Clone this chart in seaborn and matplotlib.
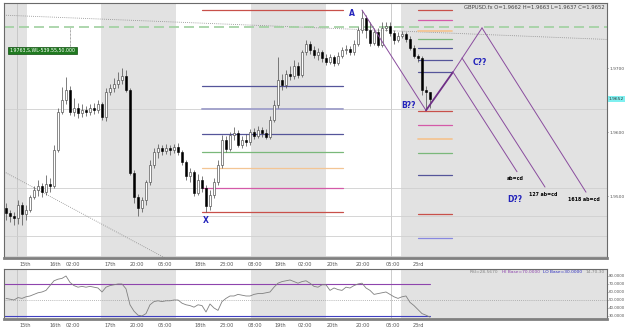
import numpy as np
import pandas as pd
import matplotlib
matplotlib.use("Agg")
import matplotlib.pyplot as plt
import seaborn as sns

# GBPUSD H1 candles (bar index 0..106)
first_open = 1.9481
closes = [1.9473, 1.9469, 1.9466, 1.9486, 1.9472, 1.9478, 1.9498, 1.9509, 1.9516, 1.9506,
          1.9519, 1.9516, 1.9572, 1.9631, 1.9650, 1.9666, 1.9631, 1.9638, 1.9630, 1.9634,
          1.9631, 1.9638, 1.9634, 1.9644, 1.9623, 1.9663, 1.9669, 1.9675, 1.9681, 1.9688,
          1.9666, 1.9536, 1.9498, 1.9481, 1.9494, 1.9522, 1.9548, 1.9569, 1.9575, 1.9570,
          1.9575, 1.9572, 1.9577, 1.9569, 1.9553, 1.9531, 1.9538, 1.9505, 1.9525, 1.9513,
          1.9484, 1.9502, 1.9522, 1.9548, 1.9588, 1.9573, 1.9595, 1.9598, 1.9580, 1.9588,
          1.9584, 1.9600, 1.9594, 1.9603, 1.9598, 1.9592, 1.9619, 1.9642, 1.9681, 1.9673,
          1.9691, 1.9688, 1.9703, 1.9689, 1.9725, 1.9738, 1.9728, 1.9720, 1.9725, 1.9716,
          1.9709, 1.9717, 1.9708, 1.9719, 1.9728, 1.9730, 1.9725, 1.9738, 1.9759, 1.9778,
          1.9759, 1.9739, 1.9756, 1.9736, 1.9763, 1.9766, 1.9755, 1.9744, 1.9750, 1.9753,
          1.9745, 1.9731, 1.9719, 1.9716, 1.9666, 1.9662, 1.9652]
highs = [1.9489, 1.9478, 1.9475, 1.9494, 1.9491, 1.9486, 1.9502, 1.9516, 1.9525, 1.9520,
         1.9533, 1.9528, 1.9580, 1.9638, 1.9670, 1.9686, 1.9672, 1.9653, 1.9645, 1.9644,
         1.9641, 1.9644, 1.9645, 1.9650, 1.9647, 1.9669, 1.9675, 1.9684, 1.9694, 1.9700,
         1.9697, 1.9669, 1.9541, 1.9503, 1.9498, 1.9525, 1.9556, 1.9575, 1.9581, 1.9580,
         1.9581, 1.9580, 1.9581, 1.9583, 1.9572, 1.9556, 1.9544, 1.9541, 1.9534, 1.9531,
         1.9517, 1.9509, 1.9528, 1.9556, 1.9595, 1.9594, 1.9600, 1.9608, 1.9603, 1.9594,
         1.9597, 1.9605, 1.9606, 1.9609, 1.9608, 1.9605, 1.9625, 1.9650, 1.9717, 1.9691,
         1.9697, 1.9703, 1.9713, 1.9709, 1.9728, 1.9744, 1.9742, 1.9734, 1.9731, 1.9728,
         1.9722, 1.9723, 1.9720, 1.9725, 1.9733, 1.9736, 1.9734, 1.9744, 1.9764, 1.9791,
         1.9784, 1.9772, 1.9763, 1.9763, 1.9772, 1.9773, 1.9772, 1.9759, 1.9756, 1.9758,
         1.9756, 1.9750, 1.9736, 1.9723, 1.9719, 1.9672, 1.9663]
lows = [1.9463, 1.9459, 1.9455, 1.9456, 1.9455, 1.9463, 1.9475, 1.9495, 1.9500, 1.9498,
        1.9502, 1.9506, 1.9513, 1.9569, 1.9628, 1.9644, 1.9627, 1.9625, 1.9622, 1.9623,
        1.9625, 1.9627, 1.9628, 1.9630, 1.9619, 1.9617, 1.9658, 1.9663, 1.9669, 1.9675,
        1.9663, 1.9533, 1.9489, 1.9469, 1.9475, 1.9486, 1.9517, 1.9544, 1.9559, 1.9564,
        1.9566, 1.9564, 1.9567, 1.9564, 1.9548, 1.9525, 1.9522, 1.9500, 1.9502, 1.9506,
        1.9475, 1.9478, 1.9497, 1.9517, 1.9544, 1.9569, 1.9570, 1.9588, 1.9577, 1.9575,
        1.9578, 1.9580, 1.9589, 1.9591, 1.9592, 1.9589, 1.9589, 1.9616, 1.9638, 1.9666,
        1.9669, 1.9681, 1.9683, 1.9684, 1.9686, 1.9720, 1.9723, 1.9716, 1.9713, 1.9709,
        1.9705, 1.9706, 1.9703, 1.9705, 1.9716, 1.9723, 1.9720, 1.9720, 1.9734, 1.9755,
        1.9747, 1.9734, 1.9736, 1.9733, 1.9733, 1.9758, 1.9750, 1.9738, 1.9741, 1.9747,
        1.9741, 1.9728, 1.9716, 1.9709, 1.9658, 1.9634, 1.9637]

# RSI(14), one value per bar
rsi = [52, 51, 50, 53, 52, 54, 55, 57, 59, 60, 62, 68, 74, 76, 77, 80, 72, 68, 66, 67,
       66, 67, 66, 65, 60, 66, 68, 69, 70, 70, 64, 44, 36, 31, 30, 33, 44, 48, 49, 48,
       49, 49, 50, 50, 46, 44, 43, 41, 44, 43, 35, 45, 40, 37, 48, 52, 55, 55, 57, 56,
       55, 55, 57, 58, 58, 59, 60, 66, 71, 73, 74, 75, 73, 71, 73, 74, 71, 67, 66, 69,
       69, 62, 65, 63, 62, 66, 65, 68, 70, 71, 65, 62, 57, 58, 59, 60, 57, 54, 52, 54,
       55, 47, 43, 38, 33, 31, 28.567]

time_pos = [4.75, 12.25, 16.75, 26, 32.75, 39.75, 48.5, 55.25, 62.25, 68.5, 74.75, 81.5, 89.25, 96.75, 103]
time_labels = ["15th", "16th", "02:00", "17th", "20:00", "05:00", "18th", "23:00", "08:00",
               "19th", "02:00", "20th", "20:00", "05:00", "23rd"]

# session shading (bar index ranges)
shade_spans = [(-0.5, 5.25), (23.75, 42.5), (61.25, 80), (98.75, 150.25)]

RED, MAG, PEACH, GREEN, NAVY, LAV, LBLUE = "#c8504a", "#d45aa8", "#f3c594", "#7ab87a", "#55559a", "#a4a4cc", "#8888e0"

# XA fibo levels
fib_left = [1.9791, 1.9672, 1.9636, 1.9597, 1.9569, 1.9544, 1.9513, 1.9475]
fib_left_col = [RED, NAVY, LAV, NAVY, GREEN, PEACH, MAG, RED]
fib_right = [1.9791, 1.9775, 1.9758, 1.9745, 1.9731, 1.9713, 1.9694,
             1.9633, 1.9611, 1.9589, 1.9567, 1.9533, 1.9472, 1.9434]
fib_right_col = [RED, MAG, PEACH, GREEN, NAVY, NAVY, NAVY, RED, MAG, PEACH, GREEN, NAVY, RED, LBLUE]

# pattern points (bar index, price)
pt_A = (89, 1.9791)
pt_B = (105, 1.9634)
pt_C = [(111.75, 1.9694), (114, 1.9716), (119, 1.9763)]
pt_D = [(127.75, 1.9538), (134.75, 1.9514), (145, 1.9506)]
d_labels = ["ab=cd", "127 ab=cd", "1618 ab=cd"]

df = pd.DataFrame({"bar": np.arange(len(closes)), "close": closes, "high": highs, "low": lows})
df["open"] = [first_open] + closes[:-1]
df.loc[105, "open"] = 1.9666

sns.set_style("white")
plt.rcParams["font.family"] = ["DejaVu Sans"]

fig = plt.figure(figsize=(6.25, 3.32), dpi=100)
ax = fig.add_axes([0.0064, 0.2229, 0.9648, 0.768])
ax2 = fig.add_axes([0.0064, 0.0392, 0.9648, 0.1506])

for a in (ax, ax2):
    for x0, x1 in shade_spans:
        a.axvspan(x0, x1, color="#e2e2e2", lw=0, zorder=0)
    a.axvline(2.75, color="#c4c4c4", lw=0.6, zorder=0.5)
    a.axvline(96.25, color="#c4c4c4", lw=0.6, zorder=0.5)
    a.set_xlim(-0.5, 150.25)
    for s in a.spines.values():
        s.set_color("#6a6a6a")
        s.set_linewidth(0.8)
    a.spines["bottom"].set_linewidth(2)
    a.spines["bottom"].set_color("#808080")
    a.yaxis.tick_right()
    a.tick_params(axis="x", labelsize=3.6, length=1.5, width=0.5, colors="#555555", pad=1.5)
    a.tick_params(axis="y", labelsize=3.2, length=1, width=0.5, colors="#555555", pad=0.8)
    a.set_xticks(time_pos, time_labels)

# main panel
ax.set_ylim(1.9403, 1.9802)
for p in [1.9636, 1.9513, 1.9469, 1.9438, 1.9406]:
    ax.axhline(p, color="#cfcfcf", lw=0.6, zorder=0.5)

ax.plot([-0.5, 150.25], [1.9783, 1.9745], color="#8a8a8a", lw=0.6, ls=(0, (1, 1.5)), zorder=1)
ax.plot([-0.5, 39.75], [1.9538, 1.9403], color="#8a8a8a", lw=0.6, ls=(0, (1, 1.5)), zorder=1)
ax.axhline(1.9764, color="#9fd09f", lw=1.2, ls=(0, (6, 3)), zorder=1)
ax.plot([16, 16], [1.9763, 1.9733], color="#555555", lw=0.5, ls=(0, (1, 1)), zorder=1)
ax.text(0.9, 1.9728, "1.9763,S,WL-539.55,50.000", fontsize=3.4, color="white", va="center", ha="left",
        bbox=dict(facecolor="#1f7a1f", edgecolor="#0e4e0e", pad=0.8, lw=0.5), zorder=5)

for p, c in zip(fib_left, fib_left_col):
    ax.plot([49, 84.25], [p, p], color=c, lw=0.9 if c != LAV else 1.4, zorder=1.5)
for p, c in zip(fib_right, fib_right_col):
    ax.plot([103, 111.5], [p, p], color=c, lw=0.9 if c != PEACH else 1.3, zorder=1.5)

# candles
up = df["close"] >= df["open"]
ax.vlines(df["bar"], df["low"], df["high"], color="#4a4a4a", lw=0.5, zorder=2)
body_lo = np.minimum(df["open"], df["close"])
body_h = np.maximum((df["close"] - df["open"]).abs(), 0.00008)
ax.bar(df["bar"][up], body_h[up], bottom=body_lo[up], width=0.55, color="white",
       edgecolor="#4a4a4a", lw=0.45, zorder=3)
ax.bar(df["bar"][~up], body_h[~up], bottom=body_lo[~up], width=0.55, color="black",
       edgecolor="black", lw=0.4, zorder=3)

# AB=CD pattern
PURP = "#8a4c9e"
ax.plot([pt_A[0], pt_B[0]], [pt_A[1], pt_B[1]], color=PURP, lw=0.7, zorder=4)
ax.plot([pt_B[0], pt_C[0][0]], [pt_B[1], pt_C[0][1]], color="#6e2e86", lw=1.3, zorder=4)
ax.plot([pt_C[0][0], pt_C[2][0]], [pt_C[0][1], pt_C[2][1]], color=PURP, lw=0.7, zorder=4)
for (cx, cy), (dx, dy), lab in zip(pt_C, pt_D, d_labels):
    ax.plot([cx, dx], [cy, dy], color=PURP, lw=0.7, zorder=4)
    ax.text(dx - 0.5, dy - 0.0011, lab, fontsize=3.4, fontweight="bold", color="black",
            ha="center", va="center", zorder=5)

BLUE = "#2222bb"
for lab, (x, y) in {"A": (86.5, 1.9786), "B??": (100.5, 1.9642), "C??": (118.5, 1.9709),
                    "D??": (127.25, 1.9494), "X": (50, 1.9461)}.items():
    ax.text(x, y, lab, fontsize=5.5, fontweight="bold", color=BLUE, ha="center", va="center", zorder=5)

ax.set_yticks([1.9700, 1.9600, 1.9500], ["1.9700", "1.9600", "1.9500"])
ax.text(1.003, 1.9652, "1.9652", transform=ax.get_yaxis_transform(), fontsize=3.2, va="center",
        ha="left", color="#333333", bbox=dict(facecolor="#7ff0f0", edgecolor="none", pad=0.5))
ax.text(0.997, 0.992, "GBPUSD.fx O=1.9662 H=1.9663 L=1.9637 C=1.9652", transform=ax.transAxes,
        ha="right", va="top", fontsize=3.8, color="#444444")

# RSI panel
sns.lineplot(x=df["bar"], y=rsi, ax=ax2, color="#808080", lw=0.6, zorder=3)
ax2.plot([-0.5, 106], [70, 70], color="#8e44ad", lw=0.8, zorder=2)
ax2.plot([-0.5, 106], [30, 30], color="#4040c0", lw=0.8, zorder=2)
ax2.axhline(50, color="#a0a0a0", lw=0.6, ls=(0, (1, 1.5)), zorder=1)
ax2.set_ylim(26.25, 88.75)
ax2.set_yticks([80, 70, 60, 50, 40, 30], ["80.0000", "70.0000", "60.0000", "50.0000", "40.0000", "30.0000"])
ax2.tick_params(axis="y", labelsize=2.8, pad=0.5, length=0.8)
ax2.set_xlabel("")
ax2.set_ylabel("")

# indicator caption, chained right to left
renderer = fig.canvas.get_renderer()
xr = 0.997
for s, c in [("14,70,30", "#888888"), ("LO Base=30.0000", "#3030c0"),
             ("HI Base=70.0000", "#8e44ad"), ("RSI=28.5670", "#888888")]:
    t = ax2.text(xr, 0.97, s, transform=ax2.transAxes, fontsize=3.2, color=c, ha="right", va="top")
    bb = t.get_window_extent(renderer).transformed(ax2.transAxes.inverted())
    xr = bb.x0 - 0.006

fig.savefig("out.png", dpi=100, facecolor="white")
